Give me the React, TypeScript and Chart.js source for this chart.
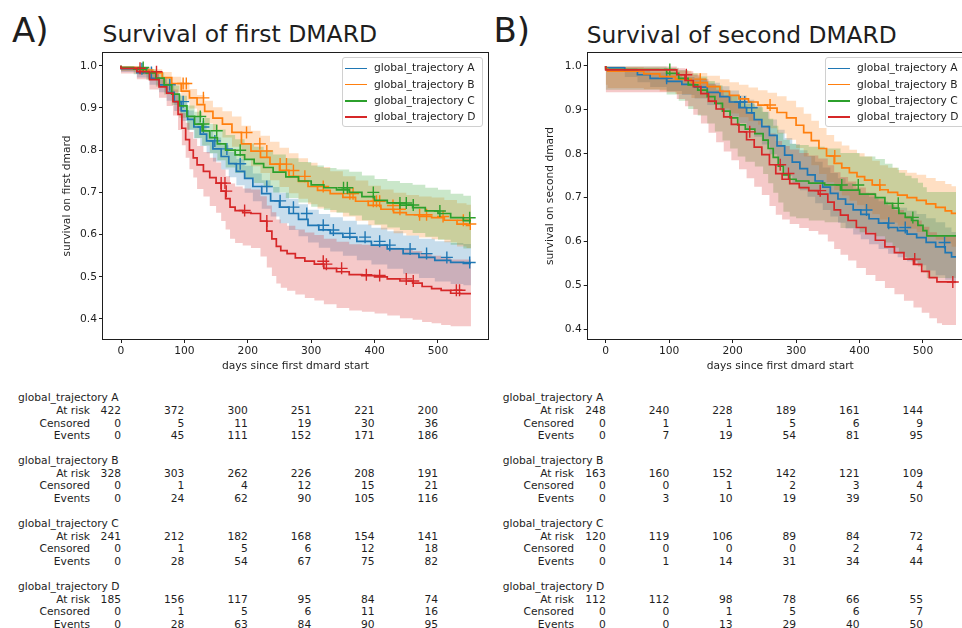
import React, { useEffect, useRef } from 'react';
import { Chart, registerables } from 'chart.js';

Chart.register(...registerables);

const FONT = '"DejaVu Sans", sans-serif';
const INK = '#1e1e1e';
const COLORS = ['#1f77b4', '#ff7f0e', '#2ca02c', '#d62728'];
const BANDS = ['rgba(31,119,180,0.25)', 'rgba(255,127,14,0.25)', 'rgba(44,160,44,0.25)', 'rgba(214,39,40,0.25)'];
const SERIES_NAMES = ['global_trajectory A', 'global_trajectory B', 'global_trajectory C', 'global_trajectory D'];
const TABLE_ROWS = ['At risk', 'Censored', 'Events'];
const X_TICKS = [0, 100, 200, 300, 400, 500];
const Y_TICKS = [0.4, 0.5, 0.6, 0.7, 0.8, 0.9, 1.0];

// ---------- A) Survival of first DMARD ----------
const firstDaysA = [0, 25, 45, 60, 72, 84, 95, 105, 115, 125, 135, 145, 158, 170, 182, 195, 208, 222, 236, 250, 265, 280, 295, 312, 330, 350, 372, 395, 420, 445, 470, 495, 520, 540, 552];
const firstSurvA = [1.0, 0.993, 0.984, 0.97, 0.955, 0.937, 0.915, 0.893, 0.873, 0.855, 0.838, 0.822, 0.803, 0.785, 0.768, 0.75, 0.733, 0.714, 0.697, 0.68, 0.665, 0.65, 0.636, 0.622, 0.611, 0.603, 0.594, 0.584, 0.575, 0.566, 0.555, 0.546, 0.539, 0.534, 0.532];
const firstLowA = [1.0, 0.985, 0.972, 0.955, 0.937, 0.917, 0.893, 0.869, 0.848, 0.828, 0.81, 0.793, 0.773, 0.754, 0.736, 0.717, 0.699, 0.679, 0.661, 0.643, 0.627, 0.611, 0.596, 0.581, 0.569, 0.56, 0.55, 0.539, 0.529, 0.519, 0.507, 0.497, 0.489, 0.483, 0.48];
const firstUpA = [1.0, 0.998, 0.992, 0.981, 0.968, 0.952, 0.932, 0.913, 0.894, 0.878, 0.862, 0.847, 0.83, 0.812, 0.796, 0.779, 0.763, 0.745, 0.729, 0.713, 0.699, 0.685, 0.672, 0.659, 0.649, 0.641, 0.633, 0.624, 0.616, 0.608, 0.598, 0.59, 0.584, 0.58, 0.578];
const firstCensorA = [33, 48, 77, 98, 130, 148, 167, 188, 230, 251, 272, 293, 319, 335, 361, 385, 408, 424, 456, 482, 514, 550];

const firstDaysB = [0, 30, 50, 65, 80, 95, 108, 120, 132, 145, 160, 175, 190, 205, 220, 235, 250, 265, 280, 295, 310, 330, 350, 370, 390, 410, 430, 450, 470, 490, 510, 530, 545, 552];
const firstSurvB = [1.0, 0.996, 0.99, 0.983, 0.972, 0.958, 0.94, 0.924, 0.908, 0.892, 0.876, 0.862, 0.842, 0.815, 0.798, 0.783, 0.767, 0.752, 0.738, 0.726, 0.714, 0.705, 0.697, 0.688, 0.679, 0.669, 0.66, 0.652, 0.647, 0.643, 0.64, 0.634, 0.625, 0.622];
const firstLowB = [1.0, 0.988, 0.979, 0.969, 0.955, 0.938, 0.917, 0.899, 0.881, 0.863, 0.846, 0.83, 0.808, 0.78, 0.762, 0.746, 0.729, 0.713, 0.698, 0.685, 0.672, 0.662, 0.653, 0.643, 0.633, 0.622, 0.612, 0.603, 0.598, 0.593, 0.589, 0.582, 0.572, 0.568];
const firstUpB = [1.0, 0.999, 0.996, 0.992, 0.985, 0.974, 0.959, 0.945, 0.931, 0.917, 0.902, 0.892, 0.88, 0.858, 0.846, 0.834, 0.82, 0.806, 0.793, 0.781, 0.77, 0.76, 0.75, 0.738, 0.728, 0.716, 0.707, 0.699, 0.694, 0.69, 0.688, 0.682, 0.674, 0.671];
const firstCensorB = [98, 103, 130, 198, 219, 230, 251, 261, 272, 290, 319, 361, 366, 398, 403, 408, 429, 440, 471, 482, 508, 540, 551];

const firstDaysC = [0, 20, 40, 55, 68, 80, 92, 104, 116, 128, 140, 152, 165, 180, 195, 210, 225, 240, 260, 280, 300, 320, 340, 360, 380, 400, 420, 440, 460, 480, 500, 520, 540, 552];
const firstSurvC = [1.0, 0.996, 0.992, 0.983, 0.971, 0.955, 0.933, 0.905, 0.88, 0.862, 0.846, 0.83, 0.815, 0.8, 0.789, 0.778, 0.768, 0.759, 0.748, 0.737, 0.727, 0.718, 0.711, 0.706, 0.7, 0.69, 0.681, 0.675, 0.67, 0.664, 0.656, 0.65, 0.64, 0.633];
const firstLowC = [1.0, 0.988, 0.98, 0.967, 0.951, 0.932, 0.907, 0.877, 0.849, 0.829, 0.811, 0.793, 0.776, 0.759, 0.746, 0.734, 0.722, 0.712, 0.7, 0.687, 0.676, 0.666, 0.658, 0.652, 0.645, 0.634, 0.624, 0.617, 0.611, 0.604, 0.595, 0.588, 0.576, 0.567];
const firstUpC = [1.0, 0.999, 0.997, 0.992, 0.984, 0.972, 0.953, 0.929, 0.906, 0.891, 0.876, 0.862, 0.849, 0.836, 0.826, 0.816, 0.808, 0.8, 0.79, 0.781, 0.772, 0.764, 0.758, 0.754, 0.749, 0.74, 0.732, 0.727, 0.722, 0.718, 0.711, 0.706, 0.697, 0.692];
const firstCensorC = [35, 125, 130, 151, 188, 351, 357, 398, 440, 450, 461, 503, 550];

const firstDaysD = [0, 25, 45, 60, 72, 82, 90, 96, 102, 108, 114, 120, 130, 140, 150, 158, 165, 172, 180, 192, 205, 220, 230, 238, 245, 252, 262, 275, 290, 305, 320, 340, 360, 380, 400, 420, 440, 460, 475, 490, 505, 520, 535, 552];
const firstSurvD = [1.0, 0.994, 0.986, 0.967, 0.95, 0.935, 0.915, 0.885, 0.852, 0.825, 0.8, 0.782, 0.765, 0.75, 0.735, 0.722, 0.703, 0.685, 0.665, 0.657, 0.652, 0.65, 0.632, 0.608, 0.59, 0.572, 0.562, 0.555, 0.545, 0.537, 0.53, 0.52, 0.512, 0.505, 0.503, 0.5, 0.495, 0.49, 0.485, 0.477, 0.472, 0.468, 0.461, 0.46];
const firstLowD = [1.0, 0.982, 0.968, 0.944, 0.924, 0.905, 0.882, 0.848, 0.812, 0.782, 0.755, 0.735, 0.708, 0.69, 0.668, 0.652, 0.632, 0.612, 0.59, 0.58, 0.574, 0.568, 0.548, 0.522, 0.502, 0.484, 0.474, 0.467, 0.458, 0.45, 0.444, 0.435, 0.426, 0.42, 0.417, 0.413, 0.408, 0.402, 0.398, 0.393, 0.39, 0.386, 0.383, 0.383];
const firstUpD = [1.0, 0.999, 0.995, 0.984, 0.972, 0.96, 0.944, 0.917, 0.888, 0.865, 0.843, 0.827, 0.81, 0.796, 0.782, 0.771, 0.754, 0.738, 0.721, 0.714, 0.709, 0.707, 0.691, 0.669, 0.653, 0.636, 0.627, 0.621, 0.612, 0.605, 0.599, 0.59, 0.583, 0.577, 0.576, 0.573, 0.569, 0.565, 0.561, 0.554, 0.55, 0.547, 0.541, 0.541];
const firstCensorD = [30, 56, 158, 164, 166, 195, 230, 319, 324, 348, 387, 408, 450, 461, 529, 534];

// ---------- B) Survival of second DMARD ----------
const secondDaysA = [0, 30, 50, 70, 96, 120, 140, 160, 180, 195, 210, 222, 234, 246, 258, 270, 282, 294, 306, 318, 330, 342, 354, 366, 378, 390, 402, 415, 430, 445, 460, 475, 490, 505, 520, 535, 545, 552];
const secondSurvA = [1.0, 0.996, 0.988, 0.98, 0.972, 0.965, 0.958, 0.952, 0.94, 0.93, 0.918, 0.905, 0.893, 0.878, 0.862, 0.842, 0.818, 0.797, 0.781, 0.766, 0.752, 0.738, 0.724, 0.71, 0.697, 0.685, 0.672, 0.662, 0.652, 0.642, 0.632, 0.625, 0.617, 0.609, 0.598, 0.588, 0.575, 0.565];
const secondLowA = [1.0, 0.988, 0.975, 0.963, 0.952, 0.943, 0.934, 0.926, 0.911, 0.899, 0.885, 0.87, 0.856, 0.839, 0.821, 0.799, 0.773, 0.75, 0.733, 0.717, 0.702, 0.687, 0.672, 0.657, 0.643, 0.63, 0.616, 0.605, 0.594, 0.583, 0.572, 0.564, 0.555, 0.546, 0.534, 0.523, 0.513, 0.505];
const secondUpA = [1.0, 0.999, 0.995, 0.991, 0.985, 0.98, 0.975, 0.971, 0.962, 0.954, 0.944, 0.933, 0.923, 0.91, 0.896, 0.878, 0.855, 0.836, 0.822, 0.808, 0.795, 0.782, 0.769, 0.756, 0.744, 0.733, 0.721, 0.711, 0.702, 0.692, 0.683, 0.677, 0.67, 0.663, 0.653, 0.644, 0.632, 0.622];
const secondCensorA = [96, 212, 219, 230, 411, 446, 472, 534];

const secondDaysB = [0, 3, 60, 85, 110, 135, 160, 180, 195, 210, 225, 240, 255, 270, 285, 300, 312, 324, 336, 348, 360, 372, 384, 396, 408, 420, 432, 445, 460, 475, 490, 505, 520, 535, 545, 552];
const secondSurvB = [1.0, 0.994, 0.988, 0.982, 0.976, 0.97, 0.962, 0.953, 0.942, 0.933, 0.925, 0.918, 0.911, 0.904, 0.894, 0.882, 0.865, 0.848, 0.83, 0.812, 0.795, 0.778, 0.768, 0.757, 0.748, 0.74, 0.729, 0.718, 0.712, 0.706, 0.7, 0.694, 0.686, 0.678, 0.67, 0.664];
const secondLowB = [1.0, 0.957, 0.95, 0.947, 0.942, 0.936, 0.927, 0.916, 0.903, 0.892, 0.883, 0.874, 0.866, 0.858, 0.846, 0.832, 0.813, 0.794, 0.774, 0.754, 0.735, 0.717, 0.705, 0.693, 0.683, 0.674, 0.662, 0.65, 0.643, 0.636, 0.629, 0.622, 0.613, 0.604, 0.595, 0.588];
const secondUpB = [1.0, 0.999, 0.997, 0.995, 0.992, 0.989, 0.984, 0.978, 0.97, 0.963, 0.957, 0.951, 0.945, 0.939, 0.931, 0.921, 0.906, 0.891, 0.875, 0.859, 0.843, 0.828, 0.819, 0.809, 0.801, 0.794, 0.784, 0.774, 0.768, 0.763, 0.757, 0.752, 0.745, 0.738, 0.731, 0.726];
const secondCensorB = [149, 259, 361, 432];

const secondDaysC = [0, 96, 115, 130, 145, 160, 172, 184, 196, 208, 220, 235, 248, 256, 264, 272, 280, 290, 300, 320, 345, 370, 400, 425, 440, 452, 462, 472, 482, 492, 500, 506, 512, 552];
const secondSurvC = [1.0, 0.992, 0.983, 0.972, 0.957, 0.945, 0.93, 0.915, 0.897, 0.882, 0.866, 0.856, 0.846, 0.831, 0.812, 0.792, 0.772, 0.752, 0.742, 0.738, 0.733, 0.729, 0.717, 0.708, 0.7, 0.687, 0.676, 0.664, 0.655, 0.648, 0.637, 0.625, 0.613, 0.613];
const secondLowC = [1.0, 0.946, 0.935, 0.921, 0.902, 0.887, 0.869, 0.851, 0.83, 0.812, 0.794, 0.782, 0.771, 0.754, 0.733, 0.711, 0.689, 0.668, 0.657, 0.653, 0.648, 0.644, 0.631, 0.621, 0.612, 0.598, 0.586, 0.573, 0.563, 0.555, 0.543, 0.53, 0.517, 0.517];
const secondUpC = [1.0, 0.999, 0.996, 0.991, 0.983, 0.976, 0.966, 0.956, 0.944, 0.933, 0.921, 0.914, 0.906, 0.895, 0.88, 0.864, 0.848, 0.832, 0.823, 0.82, 0.816, 0.812, 0.802, 0.794, 0.788, 0.777, 0.768, 0.757, 0.75, 0.744, 0.734, 0.724, 0.713, 0.713];
const secondCensorC = [101, 372, 398, 461, 484];

const secondDaysD = [0, 112, 125, 138, 150, 162, 174, 186, 198, 210, 222, 234, 246, 258, 268, 278, 290, 305, 320, 335, 350, 360, 370, 382, 395, 410, 425, 440, 455, 470, 485, 498, 510, 522, 530, 552];
const secondSurvD = [1.0, 0.991, 0.98, 0.967, 0.953, 0.937, 0.92, 0.902, 0.884, 0.867, 0.85, 0.832, 0.815, 0.798, 0.775, 0.755, 0.742, 0.732, 0.723, 0.716, 0.708, 0.69, 0.672, 0.66, 0.648, 0.632, 0.618, 0.603, 0.588, 0.575, 0.56, 0.548, 0.532, 0.518, 0.508, 0.508];
const secondLowD = [1.0, 0.94, 0.925, 0.908, 0.889, 0.869, 0.848, 0.826, 0.805, 0.785, 0.765, 0.744, 0.725, 0.706, 0.681, 0.661, 0.65, 0.64, 0.631, 0.624, 0.616, 0.6, 0.583, 0.57, 0.557, 0.54, 0.524, 0.51, 0.494, 0.48, 0.465, 0.45, 0.438, 0.425, 0.414, 0.41];
const secondUpD = [1.0, 0.999, 0.995, 0.988, 0.98, 0.97, 0.959, 0.946, 0.933, 0.92, 0.907, 0.893, 0.879, 0.865, 0.846, 0.829, 0.818, 0.81, 0.802, 0.796, 0.789, 0.774, 0.758, 0.747, 0.737, 0.723, 0.711, 0.697, 0.684, 0.672, 0.659, 0.648, 0.634, 0.621, 0.612, 0.612];
const secondCensorD = [127, 227, 275, 288, 338, 487, 547];

// ---------- at-risk tables ----------
const firstAtRiskA = [422, 372, 300, 251, 221, 200];
const firstCensoredA = [0, 5, 11, 19, 30, 36];
const firstEventsA = [0, 45, 111, 152, 171, 186];
const firstAtRiskB = [328, 303, 262, 226, 208, 191];
const firstCensoredB = [0, 1, 4, 12, 15, 21];
const firstEventsB = [0, 24, 62, 90, 105, 116];
const firstAtRiskC = [241, 212, 182, 168, 154, 141];
const firstCensoredC = [0, 1, 5, 6, 12, 18];
const firstEventsC = [0, 28, 54, 67, 75, 82];
const firstAtRiskD = [185, 156, 117, 95, 84, 74];
const firstCensoredD = [0, 1, 5, 6, 11, 16];
const firstEventsD = [0, 28, 63, 84, 90, 95];

const secondAtRiskA = [248, 240, 228, 189, 161, 144];
const secondCensoredA = [0, 1, 1, 5, 6, 9];
const secondEventsA = [0, 7, 19, 54, 81, 95];
const secondAtRiskB = [163, 160, 152, 142, 121, 109];
const secondCensoredB = [0, 0, 1, 2, 3, 4];
const secondEventsB = [0, 3, 10, 19, 39, 50];
const secondAtRiskC = [120, 119, 106, 89, 84, 72];
const secondCensoredC = [0, 0, 0, 0, 2, 4];
const secondEventsC = [0, 1, 14, 31, 34, 44];
const secondAtRiskD = [112, 112, 98, 78, 66, 55];
const secondCensoredD = [0, 0, 1, 5, 6, 7];
const secondEventsD = [0, 0, 13, 29, 40, 50];

type Series = { days: number[]; surv: number[]; low: number[]; up: number[]; censor: number[] };

const firstSeries: Series[] = [
  { days: firstDaysA, surv: firstSurvA, low: firstLowA, up: firstUpA, censor: firstCensorA },
  { days: firstDaysB, surv: firstSurvB, low: firstLowB, up: firstUpB, censor: firstCensorB },
  { days: firstDaysC, surv: firstSurvC, low: firstLowC, up: firstUpC, censor: firstCensorC },
  { days: firstDaysD, surv: firstSurvD, low: firstLowD, up: firstUpD, censor: firstCensorD },
];
const secondSeries: Series[] = [
  { days: secondDaysA, surv: secondSurvA, low: secondLowA, up: secondUpA, censor: secondCensorA },
  { days: secondDaysB, surv: secondSurvB, low: secondLowB, up: secondUpB, censor: secondCensorB },
  { days: secondDaysC, surv: secondSurvC, low: secondLowC, up: secondUpC, censor: secondCensorC },
  { days: secondDaysD, surv: secondSurvD, low: secondLowD, up: secondUpD, censor: secondCensorD },
];

const firstTable = [
  [firstAtRiskA, firstCensoredA, firstEventsA],
  [firstAtRiskB, firstCensoredB, firstEventsB],
  [firstAtRiskC, firstCensoredC, firstEventsC],
  [firstAtRiskD, firstCensoredD, firstEventsD],
];
const secondTable = [
  [secondAtRiskA, secondCensoredA, secondEventsA],
  [secondAtRiskB, secondCensoredB, secondEventsB],
  [secondAtRiskC, secondCensoredC, secondEventsC],
  [secondAtRiskD, secondCensoredD, secondEventsD],
];

function stepAt(days: number[], vals: number[], t: number) {
  let v = vals[0];
  for (let i = 0; i < days.length; i++) if (days[i] <= t) v = vals[i];
  return v;
}

function buildDatasets(series: Series[]) {
  const ds: any[] = [];
  series.forEach((s, i) => {
    const pts = (vals: number[]) => s.days.map((d, k) => ({ x: d, y: vals[k] }));
    ds.push({ data: pts(s.up), stepped: 'after', borderWidth: 0, borderColor: 'rgba(0,0,0,0)', pointRadius: 0, fill: '+1', backgroundColor: BANDS[i], order: 53 - i });
    ds.push({ data: pts(s.low), stepped: 'after', borderWidth: 0, borderColor: 'rgba(0,0,0,0)', pointRadius: 0, fill: false, order: 53 - i });
  });
  series.forEach((s, i) => {
    ds.push({ data: s.days.map((d, k) => ({ x: d, y: s.surv[k] })), stepped: 'after', borderColor: COLORS[i], borderWidth: 1.7, pointRadius: 0, fill: false, order: 10 - i });
    ds.push({
      data: s.censor.map((c) => ({ x: c, y: stepAt(s.days, s.surv, c) })),
      showLine: false, pointStyle: 'cross', pointRadius: 6, pointBorderWidth: 1.4,
      pointBorderColor: COLORS[i], borderColor: COLORS[i], backgroundColor: COLORS[i], fill: false, order: 10 - i,
    });
  });
  return ds;
}

const framePlugin = {
  id: 'frame',
  afterDraw(chart: any) {
    const { ctx, chartArea: a } = chart;
    ctx.save();
    ctx.strokeStyle = INK;
    ctx.lineWidth = 1;
    const l = Math.round(a.left) - 0.5;
    const t = Math.round(a.top) - 0.5;
    const r = Math.round(a.right) + 0.5;
    const b = Math.round(a.bottom) + 0.5;
    ctx.strokeRect(l, t, r - l, b - t);
    ctx.restore();
  },
};

type Geo = { padL: number; yWidth: number; padR: number; yMin: number; yMax: number; xMin: number; xMax: number; yTitle: string };

function makeConfig(series: Series[], g: Geo): any {
  const font = { family: FONT, size: 10.7 };
  return {
    type: 'line',
    data: { datasets: buildDatasets(series) },
    plugins: [framePlugin],
    options: {
      animation: false,
      responsive: false,
      maintainAspectRatio: false,
      layout: { padding: { left: g.padL, right: g.padR, top: 53, bottom: 7 } },
      plugins: {
        legend: { display: false },
        tooltip: { enabled: false },
        filler: { drawTime: 'beforeDatasetsDraw', propagate: false },
      },
      scales: {
        x: {
          type: 'linear', min: g.xMin, max: g.xMax,
          afterFit: (s: any) => { s.height = 34; },
          afterBuildTicks: (s: any) => { s.ticks = X_TICKS.map((v) => ({ value: v })); },
          ticks: { autoSkip: false, font, color: INK, padding: 2, maxRotation: 0, minRotation: 0, callback: (v: any) => String(v) },
          grid: { display: true, drawOnChartArea: false, drawTicks: true, tickLength: 4, tickColor: INK, tickWidth: 1 },
          border: { display: false },
          title: { display: true, text: 'days since first dmard start', font, color: INK, padding: 0 },
        },
        y: {
          type: 'linear', min: g.yMin, max: g.yMax,
          afterFit: (s: any) => { s.width = g.yWidth; },
          afterBuildTicks: (s: any) => { s.ticks = Y_TICKS.map((v) => ({ value: v })); },
          ticks: { autoSkip: false, font, color: INK, padding: 2, callback: (v: any) => Number(v).toFixed(1) },
          grid: { display: true, drawOnChartArea: false, drawTicks: true, tickLength: 4, tickColor: INK, tickWidth: 1 },
          border: { display: false },
          title: { display: true, text: g.yTitle, font, color: INK, padding: 0 },
        },
      },
    },
  };
}

const firstGeo: Geo = { padL: 61.1, yWidth: 41.9, padR: 12, yMin: 0.3526, yMax: 1.0303, xMin: -28.4, xMax: 578.9, yTitle: 'survival on first dmard' };
const secondGeo: Geo = { padL: 3.6, yWidth: 44.1, padR: 17.2, yMin: 0.378, yMax: 1.0296, xMin: -28.4, xMax: 578.5, yTitle: 'survival on second dmard' };

const TXT: React.CSSProperties = { position: 'absolute', fontSize: 10.7, lineHeight: '12.5px', whiteSpace: 'nowrap', fontFamily: FONT, color: INK };

function Legend({ left, top }: { left: number; top: number }) {
  return (
    <div style={{ position: 'absolute', left, top, width: 141, height: 70, border: '1px solid #d0d0d0', borderRadius: 3, background: 'rgba(255,255,255,0.8)', boxSizing: 'border-box' }}>
      {SERIES_NAMES.map((n, i) => (
        <React.Fragment key={n}>
          <div style={{ position: 'absolute', left: 2, top: 9.6 + i * 16.25, width: 22, height: 1.6, background: COLORS[i] }} />
          <div style={{ ...TXT, left: 31, top: 4.3 + i * 16.25 }}>{n}</div>
        </React.Fragment>
      ))}
    </div>
  );
}

function RiskTable({ titleLeft, labelRight, cols, table }: { titleLeft: number; labelRight: number; cols: number[]; table: number[][][] }) {
  const items: React.ReactNode[] = [];
  table.forEach((group, gi) => {
    const gTop = 392 + gi * 62.9;
    items.push(<div key={`t${gi}`} style={{ ...TXT, left: titleLeft, top: gTop }}>{SERIES_NAMES[gi]}</div>);
    group.forEach((row, ri) => {
      const rTop = gTop + 13 + ri * 12.5;
      items.push(<div key={`l${gi}${ri}`} style={{ ...TXT, right: 962 - labelRight, top: rTop, textAlign: 'right' }}>{TABLE_ROWS[ri]}</div>);
      row.forEach((v, ci) => {
        items.push(<div key={`v${gi}${ri}${ci}`} style={{ ...TXT, right: 962 - cols[ci], top: rTop, textAlign: 'right' }}>{v}</div>);
      });
    });
  });
  return <>{items}</>;
}

export default function App() {
  const leftRef = useRef<HTMLCanvasElement>(null);
  const rightRef = useRef<HTMLCanvasElement>(null);

  useEffect(() => {
    Chart.defaults.font.family = FONT;
    const c1 = new Chart(leftRef.current as HTMLCanvasElement, makeConfig(firstSeries, firstGeo));
    const c2 = new Chart(rightRef.current as HTMLCanvasElement, makeConfig(secondSeries, secondGeo));
    return () => { c1.destroy(); c2.destroy(); };
  }, []);

  const leftCols = [121, 184.4, 247.8, 311.2, 374.6, 438];
  const rightCols = [605.7, 669.2, 732.6, 796.1, 859.5, 923];

  return (
    <div style={{ position: 'fixed', left: 0, top: 0, width: 962, height: 628, overflow: 'hidden', background: '#fff', fontFamily: FONT, color: INK }}>
      <div style={{ position: 'absolute', left: 12, top: 13.2, fontSize: 34, lineHeight: '34px', whiteSpace: 'nowrap' }}>A)</div>
      <div style={{ position: 'absolute', left: 102.5, top: 23.1, fontSize: 23.5, lineHeight: '23.5px', whiteSpace: 'nowrap' }}>Survival of first DMARD</div>
      <div style={{ position: 'absolute', left: 493.4, top: 13, fontSize: 34, lineHeight: '34px', whiteSpace: 'nowrap' }}>B)</div>
      <div style={{ position: 'absolute', left: 586.8, top: 23, fontSize: 23.3, lineHeight: '23.3px', whiteSpace: 'nowrap' }}>Survival of second DMARD</div>

      <canvas ref={leftRef} width={500} height={380} style={{ position: 'absolute', left: 0, top: 0, width: 500, height: 380 }} />
      <canvas ref={rightRef} width={450} height={380} style={{ position: 'absolute', left: 540, top: 0, width: 450, height: 380 }} />

      <Legend left={342} top={57} />
      <Legend left={825} top={57} />

      <RiskTable titleLeft={18} labelRight={90} cols={leftCols} table={firstTable} />
      <RiskTable titleLeft={502.7} labelRight={574} cols={rightCols} table={secondTable} />
    </div>
  );
}
